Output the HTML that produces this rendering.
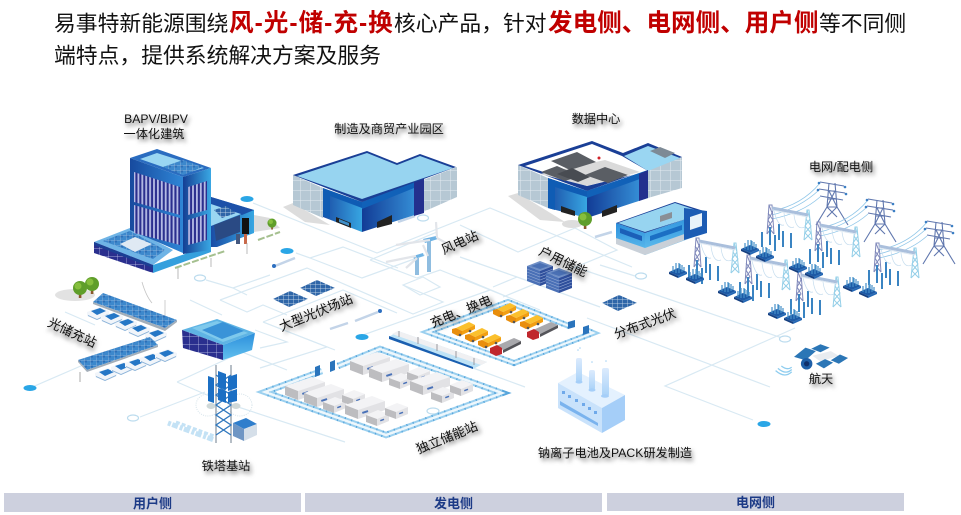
<!DOCTYPE html>
<html lang="zh"><head><meta charset="utf-8"><title>易事特新能源</title>
<style>
html,body{margin:0;padding:0;background:#fff}
body{width:961px;height:515px;position:relative;overflow:hidden;font-family:"Liberation Sans","Noto Sans CJK SC",sans-serif;color:#111}
.h{position:absolute;white-space:nowrap;font-size:21.8px;line-height:30px;height:30px;color:#111}
.r{font-size:24.6px;font-weight:bold;color:#c00000}
.l{position:absolute;white-space:nowrap;font-size:12.2px;line-height:14px;color:#111;text-shadow:2px 3px 4px rgba(0,0,0,.6);transform:translate(-50%,-50%)}
.t{font-size:13px}
.b{position:absolute;top:493px;height:19px;background:#cdd0de;text-align:center;font-size:13px;font-weight:bold;color:#1c3a86;line-height:21px}
svg{position:absolute;left:0;top:0}
</style></head><body>
<svg width="961" height="515" viewBox="0 0 961 515">
<defs>
<linearGradient id="gL" x1="0" x2="1" y1="0" y2="0"><stop offset="0" stop-color="#174a9e"/><stop offset="1" stop-color="#2f86d6"/></linearGradient>
<linearGradient id="gR" x1="0" x2="1" y1="0" y2="0"><stop offset="0" stop-color="#143f94"/><stop offset="1" stop-color="#3aa8e4"/></linearGradient>
<linearGradient id="gF" x1="0" x2="1" y1="0" y2="0"><stop offset="0" stop-color="#1b4ea6"/><stop offset="1" stop-color="#37a6e2"/></linearGradient>
<linearGradient id="gFr" x1="0" x2="1" y1="0" y2="0"><stop offset="0" stop-color="#123c96"/><stop offset="1" stop-color="#3a9be0"/></linearGradient>
<linearGradient id="gB" x1="0" x2="0" y1="0" y2="1"><stop offset="0" stop-color="#2c8fdc"/><stop offset="1" stop-color="#62c0ee"/></linearGradient>
<linearGradient id="gC" x1="0" x2="0" y1="0" y2="1"><stop offset="0" stop-color="#dcebfd"/><stop offset="1" stop-color="#a9d2f8"/></linearGradient>
<pattern id="st" width="3.9" height="6" patternUnits="userSpaceOnUse"><rect width="3.9" height="6" fill="#2b2f8e"/><rect x="1" width="1.8" height="6" fill="#b7bde6"/></pattern>
<pattern id="gw" width="10" height="10" patternUnits="userSpaceOnUse"><rect width="10" height="10" fill="#b6c8d4"/><path d="M0 0H10M0 0V10" stroke="#e3eaf0" stroke-width="1"/></pattern>
<pattern id="sol" width="6" height="5" patternUnits="userSpaceOnUse"><rect width="6" height="5" fill="#3d88cc"/><rect width="3" height="2.5" fill="#2c6fb8"/><path d="M0 0H6M0 0V5" stroke="#cfe3f2" stroke-width=".5"/></pattern>
<pattern id="sold" width="5" height="4" patternUnits="userSpaceOnUse"><rect width="5" height="4" fill="#2f66a8"/><path d="M0 0H5M0 0V4" stroke="#dce8f2" stroke-width=".7"/></pattern>
<pattern id="nv" width="9" height="8" patternUnits="userSpaceOnUse"><rect width="9" height="8" fill="#2a2f8e"/><path d="M0 0H9M0 0V8" stroke="#c9cff0" stroke-width=".7"/></pattern>

<g id="bc"><polygon points="0,9 27,0 40,5 13,14" fill="#f3f3f5"/><polygon points="0,9 13,14 13,23 0,18" fill="#bdbdc0"/><polygon points="13,14 40,5 40,14 13,23" fill="#e2e2e5"/><rect x="17" y="16" width="6" height="2" fill="#4a72b8" transform="rotate(-18 17 16)"/></g>
<g id="sc"><polygon points="0,6 12,1 23,5 11,10" fill="#f3f3f5"/><polygon points="0,6 11,10 11,17 0,13" fill="#bdbdc0"/><polygon points="11,10 23,5 23,12 11,17" fill="#e2e2e5"/><rect x="14" y="11" width="4" height="1.5" fill="#4a72b8" transform="rotate(-20 14 11)"/></g>
<g id="tr"><polygon points="4,6 17,0 23,3 10,9" fill="#fbc02d"/><polygon points="10,9 23,3 23,7 10,13" fill="#f29f12"/><polygon points="0,7 4,6 10,9 10,13 6,14 0,11" fill="#e98e0c"/><circle cx="8" cy="13" r="1.3" fill="#555"/><circle cx="18" cy="9" r="1.3" fill="#555"/></g>
<g id="rt"><polygon points="6,8 24,0 31,3 13,12" fill="#a9a9ad"/><polygon points="13,12 31,3 31,6 13,15" fill="#55555a"/><polygon points="0,10 7,7 12,10 12,16 6,18 0,15" fill="#c0272d"/></g>
<g id="car"><polygon points="-5,5 8,0 17,4 17,8 5,13 -5,9" fill="#f1f5fa"/><polygon points="-1,4 8,1 14,4 5,8" fill="#2577c6"/><polygon points="-4,8 5,12 16,7 16,8 5,13 -4,9" fill="#8ab2d8"/></g>
<g id="gan">
<g fill="none" stroke="#7f88ba" stroke-width="1"><path d="M-3 29L-1 0L2 0L4 29M-3 29L2 22L-2 15L2 8L-1 0M4 29L-2 22L3 15L-2 8"/></g>
<g fill="none" stroke="#94cfe8" stroke-width="1"><path d="M34 35L37 5L39 5L42 35M34 35L41 28L35 21L40 14L37 5M42 35L35 28L41 21L36 14"/></g>
<path d="M2 3L38 10" stroke="#aabfdc" stroke-width="3"/><path d="M2 5L38 12" stroke="#dbe6f1" stroke-width="1"/>
<g stroke="#3a84c2" stroke-width="2"><path d="M-8 27V42M0 22V40M5 30V46M9 19V35M13 26V42M21 28V43"/></g>
<g fill="none" stroke="#c4dcee" stroke-width=".7"><path d="M4 6Q8 22 14 20M14 8Q16 25 24 22M24 10Q26 26 35 22"/></g>
</g>
<g id="pad"><polygon points="-9,1 0,-3 9,1 0,5" fill="#1d5aa6"/><polygon points="-9,1 0,5 0,7 -9,3" fill="#153f80"/><polygon points="0,5 9,1 9,3 0,7" fill="#2367b4"/><g stroke="#4590c9" stroke-width="1.2"><path d="M-5 1V-5M-2 2V-7M1 2V-8M4 1V-6M6 0V-4M-2 -2V-8M2 -2V-7"/></g></g>
<g id="twr" fill="none">
<g stroke="#6077ae" stroke-width="1.1"><path d="M-3 0L-5 24L-16 42M3 0L5 24L16 42M-5 24L5 24M-4 16L4 16M-3 8L3 8M-5 24L3 8M5 24L-3 8M-5 24L5 34M5 24L-5 34M-12 -1L12 3M-13 6L13 10M-12 13L11 17"/></g>
<g stroke="#8fc6e8" stroke-width=".8"><path d="M-12 0Q-30 22 -60 28M-13 7Q-32 25 -60 32M-12 14Q-30 30 -60 36"/></g>
<g fill="#3b7fc4"><circle cx="-13" cy="0" r="1.3"/><circle cx="-14" cy="7" r="1.3"/><circle cx="13" cy="4" r="1.3"/><circle cx="14" cy="11" r="1.3"/></g>
</g>
<g id="tree"><rect x="-1.2" y="0" width="2.6" height="7" fill="#8a5a2c"/><circle cx="0" cy="-3" r="7" fill="#5f9e2a"/><circle cx="-2" cy="-5" r="3.5" fill="#86bf3d"/></g>
<g id="stk"><polygon points="-13,-6 0,-11 13,-6 0,-1" fill="#6f8fc6"/><polygon points="-9,-6 0,-9 9,-6 0,-3" fill="#4a70b4"/><polygon points="-13,-6 0,-1 0,14 -13,9" fill="#4a70b6"/><polygon points="0,-1 13,-6 13,9 0,14" fill="#2f4f9c"/><g stroke="#93a9d4" stroke-width=".6" fill="none"><path d="M-13 -3L0 2L13 -3M-13 0L0 5L13 0M-13 3L0 8L13 3M-13 6L0 11L13 6"/></g></g>
<g id="pv"><polygon points="0,8 17,0 35,8 16,16" fill="url(#sold)"/></g>
</defs>

<!-- network lines -->
<g fill="none" stroke="#d8e9f3" stroke-width="1.2">
<path d="M253 203L377 253L490 208L632 267"/>
<path d="M296 253L310 258L343 247L398 268M310 258L362 278L425 255"/>
<path d="M370 260L437 232M370 260L417 278L440 270L490 290"/>
<path d="M403 285L423 277L440 287L420 295Z"/>
<path d="M220 300L307 268L413 314L443 302L403 285"/>
<path d="M206 280L233 288L270 275M233 288L247 295M220 300L247 312L263 305L287 315"/>
<path d="M263 322L343 290L397 313M263 322L335 350M363 335L490 290M190 300L222 315"/>
<path d="M260 348L287 342L255 330M260 368L327 347L263 322"/>
<path d="M30 388L90 362M65 312L95 325M177 382L242 352L287 370M177 382L214 398M140 417L205 392M232 405L345 442"/>
<path d="M473 368L525 387M490 290L540 310M460 277L508 297M493 287L517 277"/>
<path d="M460 225L518 252L575 228L617 250L503 297M460 257L517 277L600 307"/>
<path d="M575 267L785 339M795 328L665 386L753 420M587 318L770 387M600 265L635 276"/>
</g>
<g fill="none" stroke="#bcdcee" stroke-width="1.2">
<ellipse cx="133" cy="418" rx="5.5" ry="3" fill="#fff"/><ellipse cx="200" cy="278" rx="5.5" ry="3" fill="#fff"/><ellipse cx="423" cy="218" rx="5.5" ry="3" fill="#fff"/><ellipse cx="641" cy="276" rx="5.5" ry="3" fill="#fff"/><ellipse cx="785" cy="339" rx="5.5" ry="3" fill="#fff"/><ellipse cx="433" cy="411" rx="6" ry="3" fill="#fff"/>
</g>
<g fill="#2aa6e6"><ellipse cx="30" cy="388" rx="6.5" ry="3"/><ellipse cx="247" cy="199" rx="6.5" ry="3"/><ellipse cx="287" cy="251" rx="6.5" ry="3"/><ellipse cx="362" cy="337" rx="6.5" ry="3"/><ellipse cx="764" cy="424" rx="6.5" ry="3"/></g>
<g stroke="#c3d4e8" stroke-width="2.5"><path d="M398 222L415 216M595 237L612 232M330 329L348 323M355 321L378 312M275 266L295 258"/></g>
<g fill="#2d6fc0"><circle cx="274" cy="266" r="2"/><circle cx="380" cy="311" r="2"/></g>

<!-- building 1 -->
<polygon points="217,247 254,232 280,228 270,218 254,215" fill="#dcdcdc"/>
<use href="#tree" transform="translate(272 225) scale(.65)"/>
<polygon points="94,242 130,228 173,250 153,265" fill="#6fb4e6"/>
<polygon points="103,241 130,231 165,250 153,259" fill="url(#sol)"/>
<polygon points="94,242 153,265 153,273 94,253" fill="url(#nv)"/>
<polygon points="94,242 153,265 153,268 94,245" fill="#1b3f94"/>
<polygon points="153,265 211,245 211,252 153,273" fill="#35a0dd"/>
<polygon points="120,244 135,237 152,244 135,252" fill="#dfe9f3"/>
<polygon points="211,197 254,210 254,233 217,247 211,247" fill="url(#gF)"/>
<polygon points="211,197 254,210 242,215 211,206" fill="#1c50a8"/>
<polygon points="211,204 241,214 211,226" fill="#9ad6f2"/>
<polygon points="214,210 226,206 236,213 222,218" fill="url(#sold)"/>
<polygon points="214,225 240,215 240,232 216,241" fill="#2a4a84"/>
<rect x="242" y="218" width="7" height="16" fill="#111"/>
<polygon points="130,158 157,149 211,168 183,177" fill="#2a6cc0"/>
<polygon points="140,159 157,153 204,168 183,174" fill="#9ad6f2"/>
<polygon points="163,167 183,160 203,167 183,175" fill="url(#sol)"/>
<polygon points="130,158 183,177 183,253 130,230" fill="url(#gL)"/>
<polygon points="183,177 211,168 211,250 183,254" fill="url(#gR)"/>
<polygon points="134,172 180,187 180,215 134,202" fill="url(#st)"/>
<polygon points="134,205 180,218 180,245 134,233" fill="url(#st)"/>
<polygon points="188,187 207,181 207,210 188,215" fill="url(#st)"/>
<polygon points="188,220 207,214 207,240 188,245" fill="url(#st)"/>
<g fill="#44587f"><rect x="236" y="234" width="4" height="10"/><rect x="244" y="234" width="3" height="10" fill="#c9694a"/></g>
<g stroke="#a5c08f" stroke-width="2" stroke-dasharray="7 2"><path d="M175 268L225 251M258 240L280 232"/></g>
<g stroke="#aaa" stroke-width=".8" fill="none"><path d="M178 268V279M211 258V267M247 243V254"/><path d="M142 282Q146 296 152 303M165 300V318" stroke="#c4c4c4"/></g>

<!-- building 2 -->
<polygon points="283,207 293,203 330,225 305,222" fill="#ddd"/>
<polygon points="293,175 323,188 323,218 293,205" fill="url(#gw)"/>
<polygon points="423,180 457,167 457,197 423,212" fill="url(#gw)"/>
<polygon points="323,190 362,202 362,232 323,217" fill="url(#gF)"/>
<polygon points="362,202 424,178 424,212 362,232" fill="url(#gFr)"/>
<polygon points="323,188 362,202 362,208 330,196 330,218 323,216" fill="#0f5cb4"/>
<polygon points="362,202 424,178 424,184 362,209" fill="#1161b8"/>
<polygon points="414,182 424,178 424,213 414,216" fill="#23308e"/>
<polygon points="293,175 367,151 397,163 420,154 456,167 362,202" fill="#1a3f96"/>
<polygon points="297,176 367,153 397,165 420,156 453,168 362,199" fill="#97d4f0"/>
<polygon points="336,217 351,223 351,228 336,222" fill="#222"/>
<polygon points="377,222 392,215 392,224 377,228" fill="#222"/>
<polygon points="339,219 349,223 349,226 339,222" fill="#3f8fc9"/>

<!-- building 3 -->
<polygon points="508,196 518,193 565,222 540,220" fill="#ddd"/>
<polygon points="518,165 548,178 548,208 518,195" fill="url(#gw)"/>
<polygon points="648,170 682,157 682,188 648,198" fill="url(#gw)"/>
<polygon points="518,165 592,141 623,153 648,143 682,157 587,191" fill="#1a3f96"/>
<polygon points="624,156 648,146 680,158 648,171" fill="#9ad6f2"/>
<polygon points="525,166 592,144 622,156 648,171 587,186" fill="#fff"/>
<polygon points="540,174 605,160 640,172 587,186" fill="#dadada"/>
<polygon points="551,161 577,152 596,162 570,170" fill="#5a5e64"/>
<polygon points="541,172 557,166 580,176 565,181" fill="#5a5e64"/>
<polygon points="585,175 605,167 628,175 608,183" fill="#5a5e64"/>
<polygon points="557,174 572,168 590,177 578,182" fill="#484c52"/>
<polygon points="650,151 660,147 675,153 665,158" fill="#7d8a96"/>
<circle cx="599" cy="158" r="1.5" fill="#d2232a"/>
<polygon points="548,178 587,191 587,218 548,208" fill="url(#gF)"/>
<polygon points="587,191 648,170 648,198 587,218" fill="url(#gFr)"/>
<polygon points="548,178 587,191 587,197 555,187 555,210 548,208" fill="#0f5cb4"/>
<polygon points="587,191 648,170 648,176 587,198" fill="#1161b8"/>
<polygon points="639,174 648,170 648,198 639,201" fill="#23308e"/>
<polygon points="561,206 575,211 575,216 561,212" fill="#222"/>
<polygon points="602,211 617,205 617,212 602,217" fill="#222"/>
<ellipse cx="572" cy="224" rx="10" ry="4" fill="#ddd"/>
<use href="#tree" x="585" y="222"/>

<!-- building 4 -->
<polygon points="616,223 645,233 645,255 616,243" fill="url(#gB)"/>
<polygon points="645,233 707,212 707,232 645,255" fill="url(#gB)"/>
<polygon points="616,238 645,248 645,255 616,244" fill="#c9d0d8"/>
<polygon points="645,248 690,232 690,238 645,255" fill="#c9d0d8"/>
<polygon points="616,223 675,202 707,212 645,233" fill="#1a3f96"/>
<polygon points="618,223 675,203 705,213 645,232" fill="#97d4f0"/>
<polygon points="684,208 707,211 707,233 684,240" fill="#1c5cb4"/>
<polygon points="620,228 642,236 642,241 620,233" fill="#1b5fb8"/>
<polygon points="650,236 682,225 682,230 650,241" fill="#1b6fc4"/>
<polygon points="690,217 702,213 702,226 690,230" fill="#e8f2fa"/>
<polygon points="660,216 672,212 672,218 660,222" fill="#8a8f96"/>

<!-- substation -->
<use href="#twr" x="832" y="183"/><use href="#twr" x="880" y="200"/><use href="#twr" x="939" y="222"/>
<use href="#gan" x="770" y="205"/><use href="#gan" x="818" y="222"/><use href="#gan" x="877" y="243"/>
<use href="#gan" x="697" y="238"/><use href="#gan" x="748" y="255"/><use href="#gan" x="799" y="272"/>
<use href="#pad" x="678" y="271"/><use href="#pad" x="695" y="277"/><use href="#pad" x="727" y="290"/><use href="#pad" x="743" y="296"/><use href="#pad" x="777" y="312"/><use href="#pad" x="793" y="317"/><use href="#pad" x="750" y="248"/><use href="#pad" x="765" y="255"/><use href="#pad" x="798" y="266"/><use href="#pad" x="814" y="272"/><use href="#pad" x="852" y="285"/><use href="#pad" x="868" y="291"/>

<!-- satellite -->
<g transform="translate(817,358) scale(1.15)"><polygon points="-4,-2 12,-6 19,-2 3,3" fill="#e8ecf0"/><polygon points="-20,-1 -10,-9 -1,-6 -10,2" fill="#2b76b6"/><polygon points="-5,-8 3,-12 11,-9 3,-5" fill="#2b76b6"/><polygon points="12,2 20,-3 27,0 19,5" fill="#2b76b6"/><polygon points="-1,5 7,1 14,4 6,9" fill="#2b76b6"/><circle cx="-9" cy="5" r="5" fill="#1e5fa8"/><circle cx="-9" cy="5" r="2.3" fill="#0f2f6a"/><g fill="none" stroke="#8fcdef" stroke-width="1.1"><path d="M-22 8Q-26 11 -31 7M-22 10Q-27 15 -34 9M-22 12Q-28 18 -36 11"/></g></g>

<!-- trees left & carports -->
<ellipse cx="75" cy="295" rx="20" ry="6" fill="#e2e2e2"/><use href="#tree" x="80" y="291"/><use href="#tree" x="92" y="287"/>
<g>
<use href="#car" x="92" y="307"/><use href="#car" x="106" y="312"/><use href="#car" x="120" y="318"/><use href="#car" x="133" y="324"/><use href="#car" x="150" y="329"/>
<polygon points="93,302 103,293 177,320 165,328" fill="url(#sol)"/>
<polygon points="93,302 165,328 177,320 177,322 165,331 93,304" fill="#a3aeb9"/>
<use href="#car" x="100" y="368"/><use href="#car" x="116" y="362"/><use href="#car" x="130" y="358"/><use href="#car" x="145" y="353"/><use href="#car" x="160" y="349"/>
<polygon points="78,360 150,337 158,345 87,370" fill="url(#sol)"/>
<polygon points="78,360 87,370 158,345 158,347 87,372 78,362" fill="#a3aeb9"/>
<path d="M80 372V382" stroke="#aaa"/>
</g>

<!-- tower base -->
<ellipse cx="208" cy="405" rx="12" ry="11" fill="none" stroke="#d5e3ea" stroke-dasharray="1 1.2"/><ellipse cx="240" cy="405" rx="12" ry="11" fill="none" stroke="#d5e3ea" stroke-dasharray="1 1.2"/>
<g fill="none" stroke="#c4e2f5"><path d="M168 423L214 440" stroke-width="5" stroke-dasharray="3 1.5 6 2"/><path d="M176 422L214 436" stroke-width="3" stroke-dasharray="4 2"/></g>
<g fill="none" stroke-width="1.3"><path d="M216 365V443M231 365V443" stroke="#8f9ba8"/><path d="M216 375L231 385L216 395L231 405L216 415L231 425L216 435M231 375L216 385L231 395L216 405L231 415L216 425L231 435" stroke="#2f77bd"/></g>
<g fill="#1b6fc4"><polygon points="208,376 214,378 214,393 208,391"/><polygon points="218,371 226,374 226,390 218,387"/><polygon points="228,377 237,374 237,388 228,391"/><polygon points="208,390 214,392 214,403 208,401"/><polygon points="218,388 226,391 226,403 218,400"/><polygon points="228,392 237,389 237,401 228,403"/></g>
<ellipse cx="211" cy="406" rx="4.5" ry="3" fill="#cfd8d8"/><ellipse cx="236" cy="406" rx="4.5" ry="3" fill="#cfd8d8"/>
<polygon points="233,423 246,418 257,424 244,429" fill="#2f7ecc"/><polygon points="233,423 244,429 244,441 233,436" fill="#6f96c4"/><polygon points="244,429 257,424 257,435 244,441" fill="#d5dfe9"/>
<polygon points="182,330 217,319 255,333 223,345" fill="#5fb4e4"/>
<polygon points="192,328 217,321 248,333 223,342" fill="#7fc9ec"/>
<polygon points="202,330 223,322 244,331 222,339" fill="#3a93d8"/>
<polygon points="182,330 223,345 223,360 183,348" fill="url(#nv)"/>
<polygon points="223,345 255,333 252,350 223,360" fill="url(#gB)"/>

<!-- solar -->
<use href="#pv" x="273" y="291"/><use href="#pv" x="300" y="280"/>
<use href="#pv" x="602" y="295"/>
<!-- wind -->
<g stroke="#8fbde0" fill="none"><path d="M417 258V275" stroke-width="4"/><path d="M429 240V272" stroke-width="4"/></g>
<polygon points="423,239 436,236 438,239 425,243" fill="#6fb3e4"/><polygon points="413,256 423,253 424,256 414,259" fill="#6fb3e4"/>
<path d="M437 238L436 222M437 238L446 243M428 256L423 245M417 258L406 268M416 256L386 262M430 240L396 245" stroke="#e2e5ea" stroke-width="2.2"/>
<!-- home storage -->
<use href="#stk" x="540" y="272"/><use href="#stk" x="559" y="279"/>

<!-- storage station -->
<g fill="none">
<path d="M338 366L380 349L502 393L386 435L265 392L322 371" stroke="#9bd0ef" stroke-width="6.5"/>
<path d="M338 366L380 349L502 393L386 435L265 392L322 371" stroke="#58a6dc" stroke-width="6.5" stroke-dasharray="1.2 5.5"/>
<path d="M338 366L380 349L502 393L386 435L265 392L322 371" stroke="#eef7fc" stroke-width="2.5"/>
</g>
<g fill="#2a74bc"><polygon points="315,367 320,365 320,375 315,377"/><polygon points="330,362 335,360 335,370 330,372"/></g>
<use href="#bc" x="285" y="377"/><use href="#bc" x="304" y="384"/><use href="#sc" x="323" y="396"/><use href="#sc" x="342" y="389"/><use href="#bc" x="345" y="396"/><use href="#sc" x="366" y="409"/><use href="#sc" x="385" y="402"/>
<use href="#bc" x="350" y="352"/><use href="#bc" x="369" y="359"/><use href="#sc" x="389" y="372"/><use href="#sc" x="407" y="366"/><use href="#bc" x="410" y="372"/><use href="#sc" x="431" y="386"/><use href="#sc" x="450" y="379"/>

<!-- charging -->
<g fill="none">
<path d="M569 326L508 302L428 332L514 363L593 333L586 330" stroke="#9bd0ef" stroke-width="6"/>
<path d="M569 326L508 302L428 332L514 363L593 333L586 330" stroke="#58a6dc" stroke-width="6" stroke-dasharray="1.2 5"/>
<path d="M569 326L508 302L428 332L514 363L593 333L586 330" stroke="#eef7fc" stroke-width="2.2"/>
</g>
<g fill="#2a74bc"><polygon points="568,322 575,320 575,327 568,329"/><polygon points="583,327 589,325 589,333 583,335"/></g>
<use href="#tr" x="452" y="322"/><use href="#tr" x="465" y="328"/><use href="#tr" x="478" y="334"/><use href="#tr" x="493" y="303"/><use href="#tr" x="506" y="309"/><use href="#tr" x="520" y="315"/>
<use href="#rt" x="490" y="338"/><use href="#rt" x="527" y="322"/>
<polygon points="398,331 487,362 473,369 389,337" fill="#bfe3f6"/>
<polygon points="389,336 473,367 473,369 389,339" fill="#1a5fb0"/>
<polygon points="398,331 487,362 481,365 392,334" fill="#f0f0f2"/>
<g stroke="#9a9aa0" stroke-width="1"><path d="M399 331V337M418 337V344M437 344V351M456 351V358M474 358V365"/></g>

<!-- factory -->
<polygon points="558,383 578,372 625,395 602,408" fill="#e4f1fe"/>
<polygon points="558,383 602,408 602,433 558,408" fill="#c9e2fb"/>
<polygon points="602,408 625,395 625,420 602,433" fill="#a5cef8"/>
<polygon points="560,401 598,423 598,426 560,405" fill="#7ab3ee"/>
<g fill="#6fa9ea"><rect x="562" y="391" width="3" height="3"/><rect x="568" y="395" width="3" height="3"/><rect x="575" y="399" width="3" height="3"/><rect x="582" y="403" width="3" height="3"/><rect x="588" y="407" width="3" height="3"/><rect x="594" y="411" width="3" height="3"/></g>
<rect x="576" y="358" width="6" height="24" rx="2" fill="url(#gC)"/><ellipse cx="579" cy="382" rx="3.5" ry="1.6" fill="#a5cef8"/>
<rect x="589" y="370" width="6" height="20" rx="2" fill="url(#gC)"/><ellipse cx="592" cy="390" rx="3.5" ry="1.6" fill="#a5cef8"/>
<rect x="602" y="368" width="7" height="28" rx="2" fill="url(#gC)"/><ellipse cx="605" cy="396" rx="4" ry="1.8" fill="#a5cef8"/>
<g fill="#a5d2f4"><circle cx="578" cy="350" r=".8"/><circle cx="580" cy="348" r=".8"/><circle cx="592" cy="362" r=".8"/><circle cx="606" cy="361" r=".8"/></g>
</svg>

<div class="h" style="left:54px;top:9px">易事特新能源围绕</div>
<div class="h r" style="left:229px;top:9px;letter-spacing:1px">风-光-储-充-换</div>
<div class="h" style="left:394px;top:9px">核心产品，针对</div>
<div class="h r" style="left:548px;top:9px">发电侧、电网侧、用户侧</div>
<div class="h" style="left:819px;top:9px">等不同侧</div>
<div class="h" style="left:54px;top:41px">端特点，提供系统解决方案及服务</div>

<div class="l" style="left:156px;top:119px">BAPV/BIPV</div>
<div class="l" style="left:154px;top:134px">一体化建筑</div>
<div class="l" style="left:389px;top:129px">制造及商贸产业园区</div>
<div class="l" style="left:596px;top:119px">数据中心</div>
<div class="l" style="left:841px;top:167px">电网/配电侧</div>
<div class="l t" style="left:460px;top:243px;transform:translate(-50%,-50%) rotate(-24deg)">风电站</div>
<div class="l t" style="left:563px;top:262px;transform:translate(-50%,-50%) rotate(26deg)">户用储能</div>
<div class="l t" style="left:72px;top:333px;transform:translate(-50%,-50%) rotate(25deg)">光储充站</div>
<div class="l t" style="left:316px;top:313px;transform:translate(-50%,-50%) rotate(-22deg)">大型光伏场站</div>
<div class="l t" style="left:461px;top:312px;transform:translate(-50%,-50%) rotate(-22deg)">充电、换电</div>
<div class="l t" style="left:645px;top:324px;transform:translate(-50%,-50%) rotate(-20deg)">分布式光伏</div>
<div class="l t" style="left:447px;top:438px;transform:translate(-50%,-50%) rotate(-22deg)">独立储能站</div>
<div class="l" style="left:615px;top:453px">钠离子电池及PACK研发制造</div>
<div class="l" style="left:226px;top:466px">铁塔基站</div>
<div class="l" style="left:821px;top:379px">航天</div>

<div class="b" style="left:4px;width:297px">用户侧</div>
<div class="b" style="left:305px;width:297px">发电侧</div>
<div class="b" style="left:607px;width:297px;height:18px;line-height:19px">电网侧</div>
</body></html>
